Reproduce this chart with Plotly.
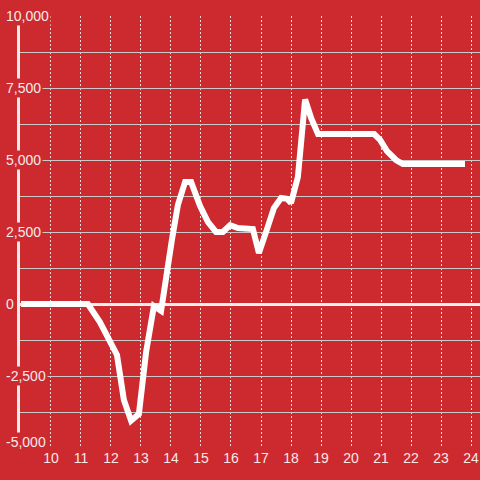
import plotly.graph_objects as go

# hours of the day and running value
hours = [9.0, 11.23, 11.63, 12.0, 12.2, 12.43, 12.67, 12.93, 13.17, 13.43, 13.67,
         14.03, 14.23, 14.47, 14.67, 14.97, 15.23, 15.5, 15.73, 15.97, 16.23,
         16.73, 16.93, 17.2, 17.43, 17.67, 17.87, 18.0, 18.23, 18.47, 18.67,
         18.9, 20.77, 20.97, 21.2, 21.5, 21.73, 23.8]
values = [0, 0, -625, -1350, -1770, -3330, -4050, -3820, -1670, -70, -240,
          2220, 3440, 4240, 4240, 3400, 2850, 2500, 2500, 2740, 2640,
          2600, 1770, 2600, 3330, 3680, 3650, 3510, 4410, 7100, 6460,
          5900, 5900, 5700, 5310, 5000, 4860, 4860]

x_ticks = list(range(10, 25))
y_labels = [-5000, -2500, 0, 2500, 5000, 7500, 10000]

bg = "#cc2a2f"
txt = "#f7e9e9"

fig = go.Figure()
fig.add_trace(go.Scatter(x=hours, y=values, mode="lines",
                         line=dict(color="white", width=6), hoverinfo="skip"))

# y labels sit over the axis with a red box behind them
for v in y_labels:
    fig.add_annotation(x=(4 - 20) / 460, xref="paper", xanchor="left",
                       y=v, yref="y", text=f"{v:,}", showarrow=False,
                       yshift=6 if v == y_labels[0] else 0,
                       bgcolor=bg, borderpad=1,
                       font=dict(family="Liberation Sans, Arial", size=14, color=txt))

fig.update_layout(
    width=480, height=480,
    paper_bgcolor=bg, plot_bgcolor=bg,
    margin=dict(l=20, r=0, t=16, b=32),
    showlegend=False,
    font=dict(family="Liberation Sans, Arial", size=14, color=txt),
)
fig.update_xaxes(range=[8.967, 24.3], tickvals=x_ticks, showgrid=True,
                 gridcolor="#e6dede", griddash="2px,2px", gridwidth=1,
                 zeroline=False, showline=False, ticks="",
                 tickfont=dict(size=14, color=txt))
fig.update_yaxes(range=[-5000, 10000], tick0=0, dtick=1250, showgrid=True,
                 gridcolor="#cfc8c8", gridwidth=1, showticklabels=False,
                 zeroline=True, zerolinecolor="#f2eeee", zerolinewidth=3,
                 showline=True, linecolor="#eeeaea", linewidth=3, ticks="")

# page has a default body margin; drop it so the chart fills the window
fig.write_html("out.html", config={"displayModeBar": False},
               post_script="document.body.style.margin='0';")
